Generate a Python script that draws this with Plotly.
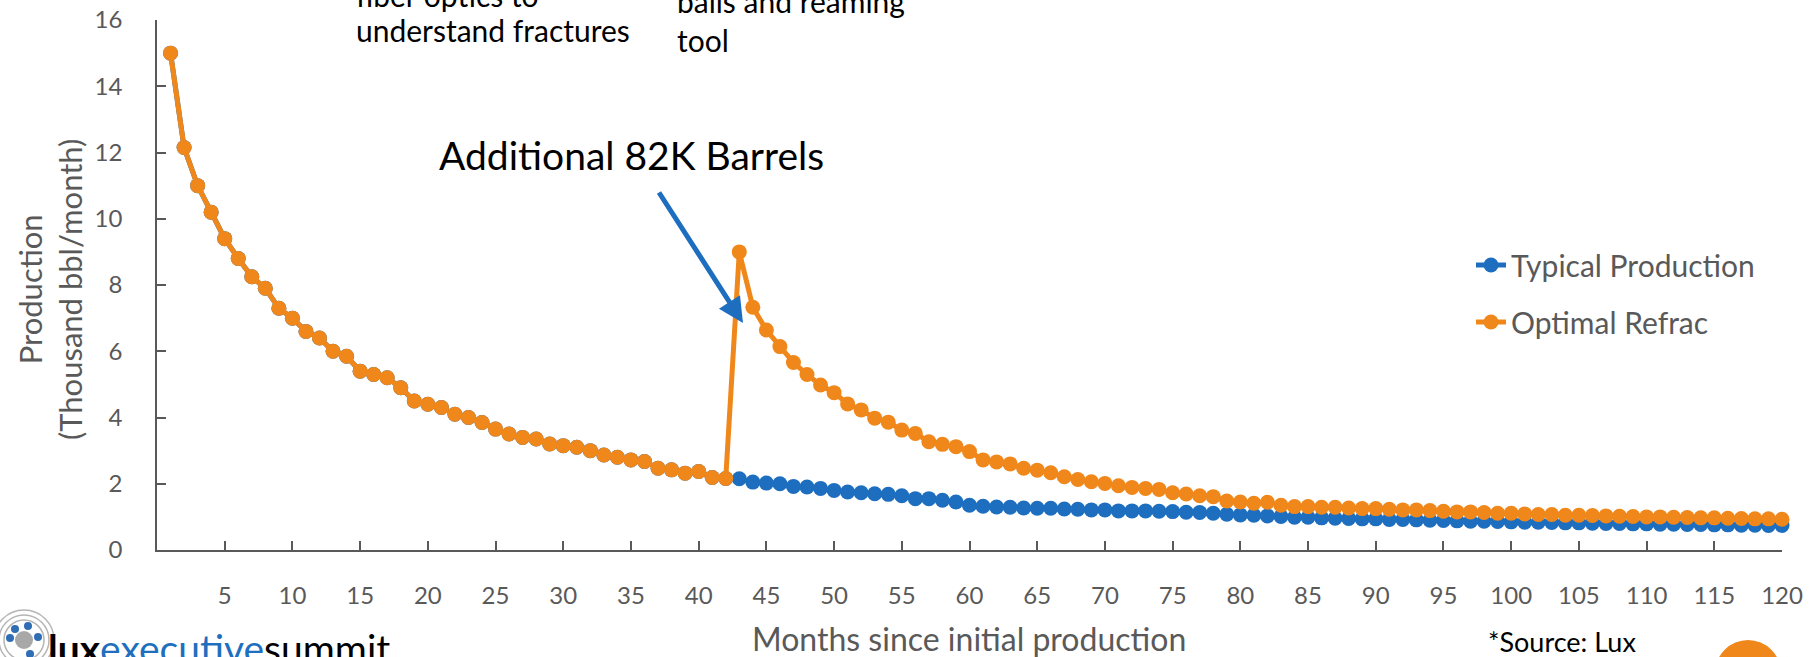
import plotly.graph_objects as go

months = list(range(1, 121))

typical = [
    15.0, 12.15, 11.0, 10.2, 9.4, 8.8, 8.25, 7.9, 7.3, 7.0,
    6.6, 6.4, 6.0, 5.85, 5.4, 5.3, 5.2, 4.9, 4.5, 4.4,
    4.3, 4.1, 4.0, 3.85, 3.65, 3.5, 3.4, 3.35, 3.2, 3.15,
    3.1, 3.0, 2.87, 2.8, 2.72, 2.67, 2.47, 2.42, 2.32, 2.37,
    2.19, 2.16, 2.15, 2.05, 2.02, 2.0, 1.92, 1.9, 1.86, 1.8,
    1.75, 1.73, 1.7, 1.68, 1.64, 1.55, 1.55, 1.5, 1.45, 1.35,
    1.32, 1.3, 1.29, 1.27, 1.26, 1.26, 1.24, 1.23, 1.21, 1.21,
    1.18, 1.18, 1.18, 1.17, 1.16, 1.14, 1.13, 1.11, 1.08, 1.06,
    1.05, 1.03, 1.01, 0.99, 0.99, 0.97, 0.96, 0.95, 0.94, 0.94,
    0.92, 0.92, 0.91, 0.90, 0.89, 0.88, 0.87, 0.87, 0.86, 0.85,
    0.84, 0.84, 0.83, 0.82, 0.82, 0.81, 0.80, 0.80, 0.79, 0.79,
    0.78, 0.78, 0.77, 0.77, 0.76, 0.76, 0.75, 0.75, 0.74, 0.74,
]

refrac_after = [
    9.0, 7.33, 6.64, 6.14, 5.66, 5.30, 4.98, 4.75, 4.41, 4.23,
    3.98, 3.86, 3.62, 3.52, 3.27, 3.19, 3.12, 2.97, 2.72, 2.66,
    2.60, 2.47, 2.41, 2.33, 2.21, 2.13, 2.06, 2.01, 1.94, 1.89,
    1.86, 1.83, 1.73, 1.69, 1.64, 1.61, 1.48, 1.45, 1.41, 1.44,
    1.35, 1.31, 1.31, 1.29, 1.29, 1.27, 1.25, 1.25, 1.23, 1.21,
    1.21, 1.19, 1.17, 1.15, 1.15, 1.13, 1.11, 1.11, 1.09, 1.07,
    1.07, 1.05, 1.05, 1.04, 1.03, 1.02, 1.01, 1.0, 1.0, 0.99,
    0.98, 0.97, 0.97, 0.96, 0.95, 0.94, 0.94, 0.93,
]
refrac_month = 43
optimal = typical[:refrac_month - 1] + refrac_after

x_ticks = list(range(5, 121, 5))
y_ticks = list(range(0, 17, 2))

BLUE = "#1E6EC0"
ORANGE = "#F0871A"
GRAY = "#595959"
FONT = "Lato"

W, H = 1820, 657
L, R, T, B = 157, 38, 20, 107
PW, PH = W - L - R, H - T - B


def px(x):
    return (x - L) / PW


def py(y):
    return (H - B - y) / PH


fig = go.Figure()
fig.add_trace(go.Scatter(
    x=months, y=typical, name="Typical Production", mode="lines+markers",
    line=dict(color=BLUE, width=5), marker=dict(color=BLUE, size=15),
    legendgroup="a", cliponaxis=False,
))
fig.add_trace(go.Scatter(
    x=months, y=optimal, name="Optimal Refrac", mode="lines+markers",
    line=dict(color=ORANGE, width=5), marker=dict(color=ORANGE, size=15),
    legendgroup="b", cliponaxis=False,
))

annotations = [
    dict(text="fiber optics to", x=px(354), y=py(-5), xanchor="left", yanchor="middle",
         font=dict(size=30, color="black")),
    dict(text="understand fractures", x=px(354), y=py(30), xanchor="left", yanchor="middle",
         font=dict(size=30, color="black")),
    dict(text="balls and reaming", x=px(675), y=py(1), xanchor="left", yanchor="middle",
         font=dict(size=30, color="black")),
    dict(text="tool", x=px(675), y=py(40), xanchor="left", yanchor="middle",
         font=dict(size=30, color="black")),
    dict(text="Additional 82K Barrels", x=px(437), y=py(155), xanchor="left", yanchor="middle",
         font=dict(size=39, color="black")),
    dict(text="", x=px(743), y=py(323), showarrow=True, ax=658 - 743, ay=191 - 323,
         arrowhead=2, arrowsize=1, arrowwidth=5, arrowcolor=BLUE),
    dict(text="Months since initial production", x=px(969), y=py(638),
         xanchor="center", yanchor="middle", font=dict(size=32, color=GRAY)),
    dict(text="Production<br>(Thousand bbl/month)", x=px(50), y=py(290), textangle=-90,
         xanchor="center", yanchor="middle", font=dict(size=31, color=GRAY)),
    dict(text="*Source: Lux", x=px(1486), y=py(641), xanchor="left", yanchor="middle",
         font=dict(size=27, color="black")),
    dict(text="<b>lux</b><span style='color:#1F6FBF'>executive</span>summit",
         x=px(46), y=py(648), xanchor="left", yanchor="middle",
         font=dict(size=39, color="black")),
]
for a in annotations:
    a.setdefault("showarrow", False)
    a.setdefault("xref", "paper")
    a.setdefault("yref", "paper")
    a.setdefault("font", dict(size=12))
    a["font"]["family"] = FONT

shapes = []
cxl, cyl = 24, 640
for r in (30, 25, 20):
    shapes.append(dict(type="circle", xref="paper", yref="paper",
                       x0=px(cxl - r), x1=px(cxl + r), y0=py(cyl + r), y1=py(cyl - r),
                       line=dict(color="#B5B5B5", width=1.5)))
shapes.append(dict(type="circle", xref="paper", yref="paper",
                   x0=px(cxl - 9), x1=px(cxl + 9), y0=py(cyl + 9), y1=py(cyl - 9),
                   fillcolor="#A8A8A8", line=dict(width=0)))
for dx, dy in ((-14, -2), (4, -14), (14, -3), (6, 14), (-9, -11)):
    shapes.append(dict(type="circle", xref="paper", yref="paper",
                       x0=px(cxl + dx - 4), x1=px(cxl + dx + 4),
                       y0=py(cyl + dy + 4), y1=py(cyl + dy - 4),
                       fillcolor="#2F6DB5", line=dict(width=0)))
shapes.append(dict(type="circle", xref="paper", yref="paper",
                   x0=px(1748 - 33), x1=px(1748 + 33), y0=py(673 + 33), y1=py(673 - 33),
                   fillcolor=ORANGE, line=dict(width=0)))

fig.update_layout(
    width=W, height=H,
    margin=dict(l=L, r=R, t=T, b=B),
    paper_bgcolor="white", plot_bgcolor="white",
    font=dict(family=FONT, color=GRAY),
    showlegend=True,
    legend=dict(x=px(1471), y=py(239), xanchor="left", yanchor="top",
                font=dict(size=30, color=GRAY, family=FONT),
                tracegroupgap=15, bgcolor="rgba(0,0,0,0)"),
    annotations=annotations,
    shapes=shapes,
)
fig.update_xaxes(
    range=[0, 120], tickvals=x_ticks, ticktext=[str(v) for v in x_ticks],
    showgrid=False, zeroline=False, showline=True, linecolor=GRAY, linewidth=1.5,
    ticks="inside", ticklen=9, tickcolor=GRAY, tickwidth=1.5, automargin=False,
    tickfont=dict(size=24, color=GRAY, family=FONT), ticklabelstandoff=23,
)
fig.update_yaxes(
    range=[0, 16], tickvals=y_ticks,
    showgrid=False, zeroline=False, showline=True, linecolor=GRAY, linewidth=1.5,
    ticks="inside", ticklen=9, tickcolor=GRAY, tickwidth=1.5, automargin=False,
    tickfont=dict(size=24, color=GRAY, family=FONT), ticklabelstandoff=28,
)

fig.write_html(
    "out.html",
    config={"displayModeBar": False},
    post_script="document.body.style.margin='0';document.body.style.overflow='hidden';",
)
